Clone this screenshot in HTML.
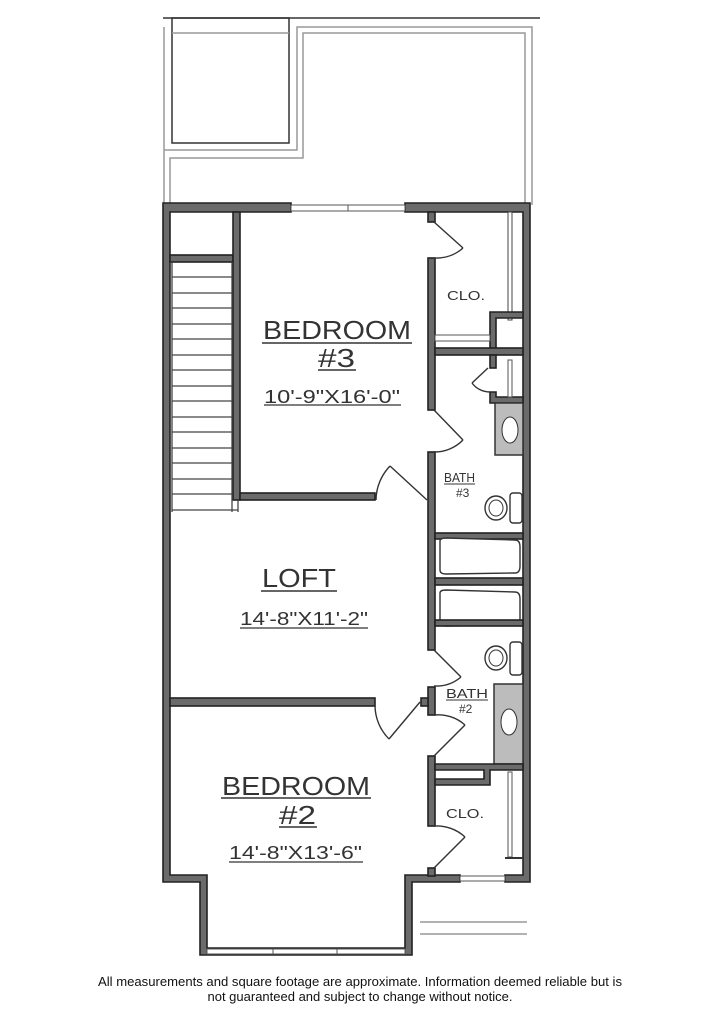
<!DOCTYPE html>
<html><head><meta charset="utf-8"><style>
html,body{margin:0;padding:0;background:#fff;width:726px;height:1024px;overflow:hidden}
svg{display:block}
.w{fill:#6b6b6b;stroke:#222;stroke-width:1.6}
.t{font-family:"Liberation Sans",sans-serif;fill:#333;font-weight:normal;letter-spacing:0}
.g{fill:none;stroke:#999;stroke-width:1.5}
.d{fill:none;stroke:#333;stroke-width:1.4}
</style></head><body>
<svg width="726" height="1024" viewBox="0 0 726 1024">
<line x1="163" y1="18" x2="540" y2="18" stroke="#333" stroke-width="1.5"/>
<rect x="172" y="18" width="117" height="125" fill="none" stroke="#333" stroke-width="1.5"/>
<line x1="172" y1="33" x2="289" y2="33" class="g"/>
<polyline class="g" points="164,27 164,205"/>
<polyline class="g" points="164,150 297,150 297,27 532,27 532,205"/>
<polyline class="g" points="170,205 170,158 303,158 303,33 525,33 525,205"/>

<path class="w" d="M163,203 H291 V212 H170 V875 H207 V948 H405 V875 H460 V882 H412 V955 H200 V882 H163 Z"/>
<path class="w" d="M405,203 H530 V882 H505 V875 H523 V212 H405 Z"/>
<rect x="291" y="205" width="114" height="6" fill="#fff" stroke="#555" stroke-width="1"/>
<line x1="348" y1="205" x2="348" y2="211" stroke="#555"/>
<rect x="460" y="876" width="45" height="5" fill="#fff" stroke="#555" stroke-width="1"/>
<rect x="207" y="949" width="198" height="5" fill="#fff" stroke="#555" stroke-width="1"/>
<line x1="273" y1="949" x2="273" y2="954" stroke="#555"/><line x1="337" y1="949" x2="337" y2="954" stroke="#555"/>

<rect class="w" x="170" y="255" width="63" height="7"/>
<rect class="w" x="233" y="212" width="7" height="288"/>
<rect class="w" x="240" y="493" width="135" height="7"/>
<g stroke="#444" stroke-width="1.3">
<line x1="172" y1="262" x2="172" y2="512"/><line x1="232" y1="262" x2="232" y2="512"/>
<line x1="172" y1="277" x2="232" y2="277"/><line x1="172" y1="293" x2="232" y2="293"/><line x1="172" y1="308" x2="232" y2="308"/><line x1="172" y1="324" x2="232" y2="324"/><line x1="172" y1="339" x2="232" y2="339"/><line x1="172" y1="355" x2="232" y2="355"/><line x1="172" y1="370" x2="232" y2="370"/><line x1="172" y1="386" x2="232" y2="386"/><line x1="172" y1="401" x2="232" y2="401"/><line x1="172" y1="417" x2="232" y2="417"/><line x1="172" y1="432" x2="232" y2="432"/><line x1="172" y1="448" x2="232" y2="448"/><line x1="172" y1="463" x2="232" y2="463"/><line x1="172" y1="479" x2="232" y2="479"/><line x1="172" y1="494" x2="232" y2="494"/><line x1="172" y1="510" x2="238" y2="510"/>
<line x1="238" y1="500" x2="238" y2="512"/></g>

<rect class="w" x="428" y="212" width="7" height="10"/>
<rect class="w" x="428" y="258" width="7" height="152"/>
<rect class="w" x="428" y="452" width="7" height="198"/>
<rect class="w" x="428" y="687" width="7" height="28"/>
<rect class="w" x="421" y="698" width="7" height="8"/>
<rect class="w" x="428" y="756" width="7" height="70"/>
<rect class="w" x="428" y="868" width="7" height="8"/>
<rect class="w" x="170" y="698" width="205" height="8"/>

<rect x="508" y="212" width="4" height="108" fill="#fff" stroke="#444" stroke-width="1"/>
<path class="w" d="M490,312 H523 V318 H496 V355 H490 Z"/>
<rect class="w" x="435" y="348" width="88" height="7"/>
<rect x="435" y="335" width="55" height="6" fill="#fff" stroke="#555" stroke-width="1"/>
<rect class="w" x="490" y="355" width="6" height="13"/>
<path class="w" d="M490,392 H496 V397 H523 V403 H490 Z"/>
<rect x="508" y="360" width="4" height="37" fill="#fff" stroke="#555" stroke-width="1"/>
<rect x="495" y="403" width="28" height="52" fill="#bcbcbc" stroke="#333" stroke-width="1.5"/>
<ellipse cx="510" cy="430" rx="8" ry="13" fill="#fff" stroke="#333"/>
<rect x="510" y="493" width="12" height="30" rx="3" fill="#fff" stroke="#333" stroke-width="1.4"/>
<ellipse cx="496" cy="508" rx="11" ry="12" fill="#fff" stroke="#333" stroke-width="1.4"/>
<ellipse cx="496" cy="508" rx="7" ry="8" fill="none" stroke="#333"/>
<rect class="w" x="435" y="533" width="88" height="6"/>
<rect class="w" x="435" y="578" width="88" height="7"/>
<path d="M440,541 Q440,538 446,538 L515,540 Q520,540 520,547 L520,566 Q520,573 515,573 L446,574 Q440,574 440,570 Z" fill="#fff" stroke="#333" stroke-width="1.4"/>
<path d="M440,593 Q440,590 446,590 L515,592 Q520,592 520,599 L520,618 Q520,625 515,625 L446,626 Q440,626 440,622 Z" fill="#fff" stroke="#333" stroke-width="1.4"/>
<rect class="w" x="435" y="620" width="88" height="6"/>
<rect x="510" y="642" width="12" height="33" rx="3" fill="#fff" stroke="#333" stroke-width="1.4"/>
<ellipse cx="496" cy="658" rx="11" ry="12" fill="#fff" stroke="#333" stroke-width="1.4"/>
<ellipse cx="496" cy="658" rx="7" ry="8" fill="none" stroke="#333"/>
<rect x="494" y="684" width="29" height="80" fill="#bcbcbc" stroke="#333" stroke-width="1.5"/>
<ellipse cx="509" cy="722" rx="8" ry="13" fill="#fff" stroke="#333"/>
<path class="w" d="M435,764 H523 V770 H490 V785 H435 V779 H484 V770 H435 Z"/>
<rect x="508" y="772" width="4" height="85" fill="#fff" stroke="#555" stroke-width="1"/>
<line x1="505" y1="858" x2="523" y2="858" stroke="#333" stroke-width="2"/>

<g class="d">
<line x1="434" y1="222" x2="463" y2="248"/><path d="M463,248 A40,40 0 0 1 434,258"/>
<line x1="434" y1="410" x2="463" y2="440"/><path d="M463,440 A40,40 0 0 1 434,452"/>
<line x1="488" y1="368" x2="472" y2="383"/><path d="M472,383 A22,22 0 0 0 490,392"/>
<line x1="427" y1="500" x2="390" y2="466"/><path d="M390,466 A50,50 0 0 0 376,500"/>
<line x1="434" y1="650" x2="461" y2="677"/><path d="M461,677 A38,38 0 0 1 434,686"/>
<line x1="420" y1="702" x2="389" y2="739"/><path d="M389,739 A48,48 0 0 1 375,706"/>
<line x1="434" y1="756" x2="465" y2="725"/><path d="M465,725 A40,40 0 0 0 434,715"/>
<line x1="434" y1="868" x2="465" y2="837"/><path d="M465,837 A42,42 0 0 0 434,826"/>
</g>

<line x1="420" y1="922" x2="527" y2="922" class="g"/>
<line x1="420" y1="934" x2="527" y2="934" class="g"/>

<g class="t">
<text x="263" y="339" font-size="26" textLength="148" lengthAdjust="spacingAndGlyphs">BEDROOM</text>
<line x1="262" y1="343" x2="412" y2="343" stroke="#333" stroke-width="1.5"/>
<text x="318" y="367" font-size="26" textLength="37" lengthAdjust="spacingAndGlyphs">#3</text>
<line x1="318" y1="370" x2="356" y2="370" stroke="#333" stroke-width="1.5"/>
<text x="264" y="403" font-size="18" textLength="136" lengthAdjust="spacingAndGlyphs">10'-9"X16'-0"</text>
<line x1="264" y1="405" x2="401" y2="405" stroke="#333" stroke-width="1.3"/>
<text x="447" y="300" font-size="13" textLength="38" lengthAdjust="spacingAndGlyphs">CLO.</text>
<text x="444" y="482" font-size="13" textLength="31" lengthAdjust="spacingAndGlyphs">BATH</text>
<line x1="444" y1="484" x2="475" y2="484" stroke="#333"/>
<text x="456" y="497" font-size="12">#3</text>
<text x="262" y="587" font-size="26" textLength="74" lengthAdjust="spacingAndGlyphs">LOFT</text>
<line x1="261" y1="591" x2="337" y2="591" stroke="#333" stroke-width="1.5"/>
<text x="240" y="625" font-size="18" textLength="128" lengthAdjust="spacingAndGlyphs">14'-8"X11'-2"</text>
<line x1="240" y1="628" x2="368" y2="628" stroke="#333" stroke-width="1.3"/>
<text x="446" y="698" font-size="13" textLength="42" lengthAdjust="spacingAndGlyphs">BATH</text>
<line x1="446" y1="700" x2="488" y2="700" stroke="#333"/>
<text x="459" y="713" font-size="12">#2</text>
<text x="222" y="795" font-size="26" textLength="148" lengthAdjust="spacingAndGlyphs">BEDROOM</text>
<line x1="221" y1="798" x2="371" y2="798" stroke="#333" stroke-width="1.5"/>
<text x="279" y="824" font-size="26" textLength="37" lengthAdjust="spacingAndGlyphs">#2</text>
<line x1="279" y1="827" x2="317" y2="827" stroke="#333" stroke-width="1.5"/>
<text x="229" y="859" font-size="18" textLength="133" lengthAdjust="spacingAndGlyphs">14'-8"X13'-6"</text>
<line x1="229" y1="862" x2="363" y2="862" stroke="#333" stroke-width="1.3"/>
<text x="446" y="818" font-size="13" textLength="38" lengthAdjust="spacingAndGlyphs">CLO.</text>
</g>
<text x="360" y="986" text-anchor="middle" font-family="Liberation Sans, sans-serif" font-size="13" textLength="524" lengthAdjust="spacingAndGlyphs" fill="#111">All measurements and square footage are approximate. Information deemed reliable but is</text>
<text x="360" y="1001" text-anchor="middle" font-family="Liberation Sans, sans-serif" font-size="13" fill="#111">not guaranteed and subject to change without notice.</text>
</svg>
</body></html>
